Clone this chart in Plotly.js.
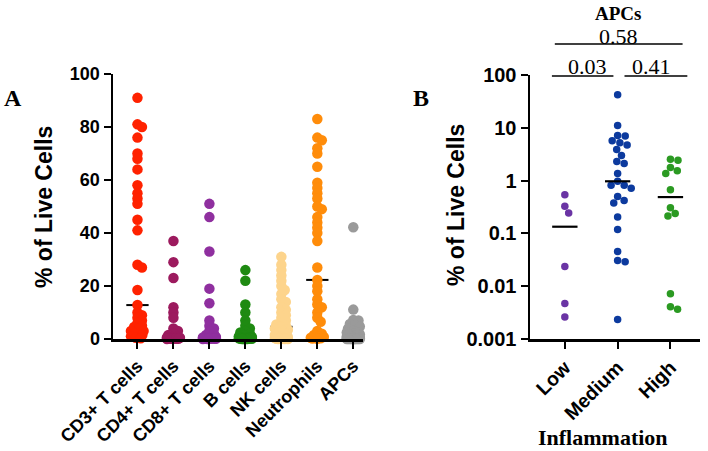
<!DOCTYPE html>
<html><head><meta charset="utf-8">
<script src="https://cdn.plot.ly/plotly-3.0.1.min.js"></script>
<style>html,body{margin:0;padding:0;background:#fff}</style>
</head><body><div id="chart" style="width:708px;height:451px"></div>
<script>
// ---------- data ----------
const cellTypes = ["CD3+ T cells","CD4+ T cells","CD8+ T cells","B cells","NK cells","Neutrophils","APCs"];
const cd3 = [91,81,80,76,70,68,64,58,55,53,51,45,41,28,27,18.5,12.8,10,9,8,7,6,5,4.5,4,3,3,2,2,1.5,1,0.5,0.3];
const cd4 = [37,29,23,12,10,8,4,3,2,1.5,1,0.8,0.7,0.6,0.5,0.4,0.3,0.2,0.1,0.1,0.05,0.05,0.02];
const cd8 = [51,46,33,19,13.5,7,5,4,3,2,1.5,1,0.8,0.6,0.5,0.4,0.3,0.2,0.1,0.1,0.05,0.05,0.02,0.01];
const bCells = [26,22,13,10,7,5,4,3,2.5,2,1.5,1,0.8,0.6,0.5,0.4,0.3,0.2,0.1,0.1,0.05,0.02,0.01,0.01];
const nkCells = [31,28,26,24,22,20,18.5,17,15,14,12,11,10,9,8,7,6,5.5,5,4.6,4,3.5,3,2.5,2,1.5,1,0.8,0.6,0.5,0.4,0.3,0.2,0.1,0.1,0.05,0.02,0.01,0.01];
const neutrophils = [83,76,75,72,70,65,59,57,55,53,50,49,46,44,42,40,37,27,22.3,20,18,15,13,12,10,8,6.5,3,2,1.5,1,0.8,0.5,0.5,0.3,0.2,0.1];
const inflammationLevels = ["Low","Medium","High"];
const apcLow = [0.54,0.325,0.244,0.0237,0.0047,0.0026];
const apcMedium = [42.2,11.1,7.18,6.98,5.7,5.23,4.73,3.87,2.99,2.30,2.11,1.37,0.97,0.82,0.82,0.72,0.50,0.42,0.376,0.205,0.119,0.0453,0.0307,0.029,0.00234];
const apcHigh = [2.55,2.44,1.78,1.54,1.37,0.668,0.307,0.237,0.214,0.00718,0.0041,0.00365];
const apcAll = apcLow.concat(apcMedium, apcHigh);
const pvalues = ["0.03","0.41","0.58"];

// ---------- geometry ----------
const W = 708, H = 451;
const xDomL = [113/W, 363/W], yDomL = [(H-339)/H, (H-74)/H];
const xDomR = [530/W, 700/W], yDomR = [(H-339)/H, (H-75)/H];
const xRangeL = [-0.68, 6.27], yRangeL = [0, 100];
const xRangeR = [-0.66, 2.56], yRangeR = [-3, 2];
const pxPerXL = W*(xDomL[1]-xDomL[0])/(xRangeL[1]-xRangeL[0]);
const pxPerYL = H*(yDomL[1]-yDomL[0])/(yRangeL[1]-yRangeL[0]);
const pxPerXR = W*(xDomR[1]-xDomR[0])/(xRangeR[1]-xRangeR[0]);
const pxPerDecR = H*(yDomR[1]-yDomR[0])/(yRangeR[1]-yRangeR[0]);

function swarm(vals, toPx, D, maxOff) {
  const idx = vals.map((v,i)=>i).sort((a,b)=>vals[b]-vals[a]);
  const placed = [], off = new Array(vals.length).fill(0);
  for (const i of idx) {
    const y = toPx(vals[i]);
    const cands = [0];
    for (const p of placed) {
      const dy = Math.abs(p.y-y);
      if (dy < D) { const dx = Math.sqrt(D*D-dy*dy); cands.push(p.x+dx+0.01, p.x-dx-0.01); }
    }
    cands.sort((a,b)=>Math.abs(a)-Math.abs(b));
    let best = null;
    for (const c of cands) {
      if (Math.abs(c) > maxOff) continue;
      if (placed.every(p=>Math.hypot(p.x-c,p.y-y) >= D-0.001)) { best = c; break; }
    }
    if (best === null) {
      let bs = -1;
      for (let k=-4;k<=4;k++) {
        const c = k*maxOff/4;
        const md = Math.min(...placed.map(p=>Math.hypot(p.x-c,p.y-y)));
        if (md > bs) { bs = md; best = c; }
      }
    }
    placed.push({x:best,y}); off[i] = best;
  }
  return off;
}
function median(a){const s=[...a].sort((x,y)=>x-y);const n=s.length;return n%2?s[(n-1)/2]:(s[n/2-1]+s[n/2])/2;}

const leftGroups = [cd3,cd4,cd8,bCells,nkCells,neutrophils,apcAll];
const leftColors = ["#ff2200","#9c1a5e","#8f2f9f","#1f8a12","#fdd48c","#ff8c0a","#9a9a9a"];
const rightGroups = [apcLow,apcMedium,apcHigh];
const rightColors = ["#6a34a4","#0c3a9e","#2b9a22"];

const traces = [];
// left median lines (drawn beneath the points)
const mlx=[],mly=[];
leftGroups.forEach((g,i)=>{const m=median(g);mlx.push(i-0.31,i+0.31,null);mly.push(m,m,null);});
traces.push({type:"scatter",mode:"lines",xaxis:"x",yaxis:"y",cliponaxis:false,x:mlx,y:mly,line:{color:"#000",width:2},hoverinfo:"skip"});
leftGroups.forEach((g,i)=>{
  const off = swarm(g, v=>v*pxPerYL, 5.2, 6.5);
  traces.push({type:"scatter",mode:"markers",xaxis:"x",yaxis:"y",cliponaxis:false,
    x:g.map((v,k)=>i+off[k]/pxPerXL), y:g,
    marker:{size:10.5,color:leftColors[i],line:{width:0}},hoverinfo:"y"});
});
rightGroups.forEach((g,i)=>{
  const off = swarm(g, v=>Math.log10(v)*pxPerDecR, 7.6, 15);
  traces.push({type:"scatter",mode:"markers",xaxis:"x2",yaxis:"y2",cliponaxis:false,
    x:g.map((v,k)=>i+off[k]/pxPerXR), y:g,
    marker:{size:7.5,color:rightColors[i],line:{width:0}},hoverinfo:"y"});
});
const mrx=[],mry=[];
rightGroups.forEach((g,i)=>{const m=median(g);mrx.push(i-0.24,i+0.24,null);mry.push(m,m,null);});
traces.push({type:"scatter",mode:"lines",xaxis:"x2",yaxis:"y2",cliponaxis:false,x:mrx,y:mry,line:{color:"#000",width:2.2},hoverinfo:"skip"});

const sans = "Liberation Sans, Arial, sans-serif";
const serif = "Liberation Serif, Times New Roman, serif";
const axBase = {showline:true,linecolor:"#000",linewidth:2.5,ticks:"outside",ticklen:7,tickwidth:2,tickcolor:"#000",
  showgrid:false,zeroline:false,fixedrange:true};
const f = (size,fam,weight)=>({family:fam,size:size,color:"#000",weight:weight||"normal"});

const py = y => 1 - y/H, px = x => x/W;
const layout = {
  width:W,height:H,margin:{l:0,r:0,t:0,b:0},paper_bgcolor:"#fff",plot_bgcolor:"rgba(0,0,0,0)",showlegend:false,
  xaxis:Object.assign({},axBase,{domain:xDomL,range:xRangeL,tickvals:cellTypes.map((c,i)=>i),ticktext:cellTypes,tickangle:-45,anchor:"y",tickfont:f(18,sans,"bold")}),
  yaxis:Object.assign({},axBase,{domain:yDomL,range:yRangeL,dtick:20,tick0:0,anchor:"x",tickfont:f(18,sans,"bold")}),
  xaxis2:Object.assign({},axBase,{domain:xDomR,range:xRangeR,tickvals:inflammationLevels.map((c,i)=>i),ticktext:inflammationLevels,tickangle:-45,anchor:"y2",tickfont:f(19.5,sans,"bold")}),
  yaxis2:Object.assign({},axBase,{domain:yDomR,type:"log",range:yRangeR,tickvals:[0.001,0.01,0.1,1,10,100],ticktext:["0.001","0.01","0.1","1","10","100"],anchor:"x2",tickfont:f(20,sans,"bold")}),
  shapes:[
    {type:"line",xref:"x2",yref:"paper",x0:-0.245,x1:0.92,y0:py(76),y1:py(76),line:{color:"#000",width:1.6}},
    {type:"line",xref:"x2",yref:"paper",x0:1.13,x1:2.32,y0:py(76),y1:py(76),line:{color:"#000",width:1.6}},
    {type:"line",xref:"x2",yref:"paper",x0:-0.19,x1:2.23,y0:py(44),y1:py(44),line:{color:"#000",width:1.6}}
  ],
  annotations:[
    {text:"A",xref:"paper",yref:"paper",x:px(13),y:py(98),xanchor:"center",yanchor:"middle",showarrow:false,font:f(24,serif,"bold")},
    {text:"B",xref:"paper",yref:"paper",x:px(421),y:py(98),xanchor:"center",yanchor:"middle",showarrow:false,font:f(24,serif,"bold")},
    {text:"APCs",xref:"paper",yref:"paper",x:px(618),y:py(14),xanchor:"center",yanchor:"middle",showarrow:false,font:f(19,serif,"bold")},
    {text:pvalues[2],xref:"paper",yref:"paper",x:px(618),y:py(36),xanchor:"center",yanchor:"middle",showarrow:false,font:f(22,serif)},
    {text:pvalues[0],xref:"paper",yref:"paper",x:px(587),y:py(66),xanchor:"center",yanchor:"middle",showarrow:false,font:f(22,serif)},
    {text:pvalues[1],xref:"paper",yref:"paper",x:px(651),y:py(66),xanchor:"center",yanchor:"middle",showarrow:false,font:f(22,serif)},
    {text:"Inflammation",xref:"paper",yref:"paper",x:px(603),y:py(437),xanchor:"center",yanchor:"middle",showarrow:false,font:f(22,serif,"bold")},
    {text:"% of Live Cells",xref:"paper",yref:"paper",x:px(44),y:py(207),xanchor:"center",yanchor:"middle",textangle:-90,showarrow:false,font:f(23,sans,"bold")},
    {text:"% of Live Cells",xref:"paper",yref:"paper",x:px(456),y:py(205),xanchor:"center",yanchor:"middle",textangle:-90,showarrow:false,font:f(23,sans,"bold")}
  ]
};
Plotly.newPlot("chart",traces,layout,{staticPlot:true,displayModeBar:false});
</script></body></html>
